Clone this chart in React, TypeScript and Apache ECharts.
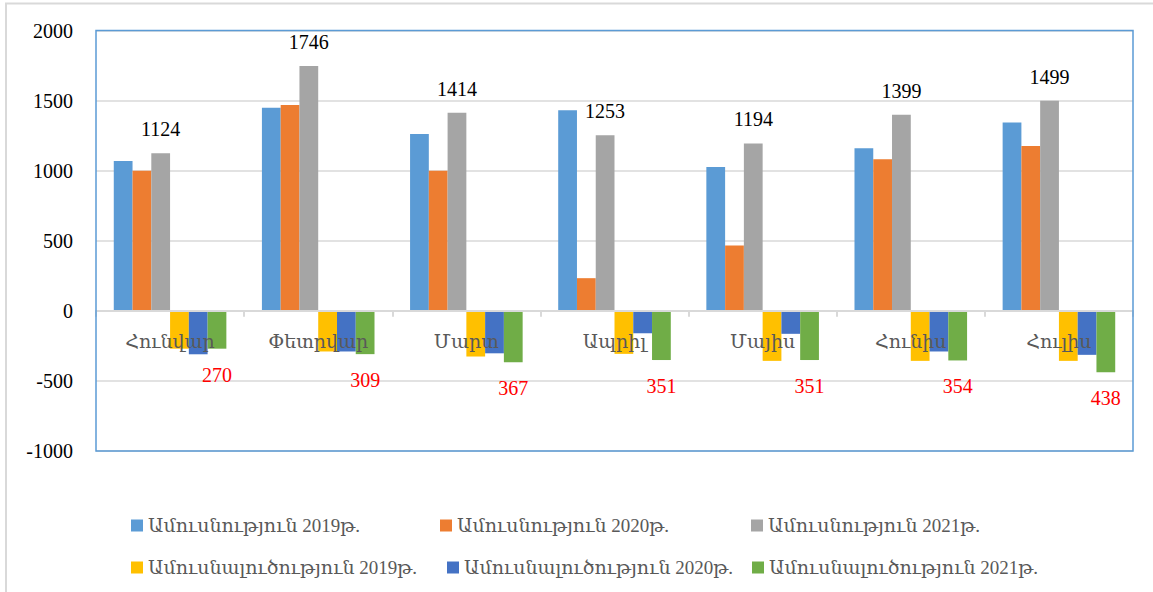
import React, { useEffect, useRef } from "react";
import * as echarts from "echarts";

const categories = ["Հունվար", "Փետրվար", "Մարտ", "Ապրիլ", "Մայիս", "Հունիս", "Հուլիս"];
const seriesNames = [
  "Ամուսնություն 2019թ.",
  "Ամուսնություն 2020թ.",
  "Ամուսնություն 2021թ.",
  "Ամուսնալուծություն 2019թ.",
  "Ամուսնալուծություն 2020թ.",
  "Ամուսնալուծություն 2021թ.",
];
const marriage2019 = [1069, 1448, 1262, 1431, 1026, 1160, 1343];
const marriage2020 = [1000, 1469, 1000, 233, 467, 1081, 1176];
const marriage2021 = [1124, 1746, 1414, 1253, 1194, 1399, 1499];
const divorce2019 = [-270, -290, -326, -307, -357, -357, -357];
const divorce2020 = [-310, -290, -303, -160, -164, -290, -314];
const divorce2021 = [-270, -309, -367, -351, -351, -354, -438];
const yTicks = { min: -1000, max: 2000, interval: 500 };

const colors = ["#5b9bd5", "#ed7d31", "#a5a5a5", "#ffc000", "#4472c4", "#70ad47"];
const FONT = "'Liberation Serif', 'DejaVu Serif', serif";

export default function App() {
  const ref = useRef<HTMLDivElement>(null);
  useEffect(() => {
    if (!ref.current) return;
    const chart = echarts.init(ref.current, undefined, { renderer: "svg" });
    const values = [marriage2019, marriage2020, marriage2021, divorce2019, divorce2020, divorce2021];
    const gridL = 96, gridT = 30.5, gridR = 1133, gridB = 451;
    const zeroY = gridB - ((0 - yTicks.min) / (yTicks.max - yTicks.min)) * (gridB - gridT);
    const legendPos = [
      [126, 511], [435, 511], [746, 511],
      [126, 553], [442, 553], [747, 553],
    ];
    chart.setOption({
      animation: false,
      textStyle: { fontFamily: FONT },
      grid: { left: gridL, top: gridT, width: gridR - gridL, height: gridB - gridT, containLabel: false },
      legend: seriesNames.map((n, i) => ({
        data: [n],
        left: legendPos[i][0],
        top: legendPos[i][1],
        icon: "rect",
        itemWidth: 12,
        itemHeight: 12,
        itemGap: 6,
        selectedMode: false,
        textStyle: { fontFamily: FONT, fontSize: 19, color: "#595959" },
      })),
      xAxis: {
        type: "category",
        data: categories,
        z: 5,
        position: "bottom",
        offset: -(gridB - zeroY),
        axisLine: { onZero: false, lineStyle: { color: "#d9d9d9", width: 2 } },
        axisTick: { show: true, length: 6, lineStyle: { color: "#d9d9d9", width: 2 } },
        axisLabel: { margin: 21, fontSize: 19, color: "#595959", fontFamily: FONT },
      },
      yAxis: {
        type: "value",
        min: yTicks.min,
        max: yTicks.max,
        interval: yTicks.interval,
        axisLine: { show: false },
        axisTick: { show: false },
        axisLabel: {
          margin: 23,
          fontSize: 20,
          color: "#000",
          fontFamily: FONT,
          formatter: (v: number) => String(v),
        },
        splitLine: { lineStyle: { color: "#d9d9d9", width: 1.5 } },
      },
      series: values.map((d, i) => ({
        name: seriesNames[i],
        type: "bar",
        data: d,
        barGap: "0%",
        barCategoryGap: "24%",
        itemStyle: { color: colors[i] },
        label:
          i === 2
            ? { show: true, position: "top", distance: 14, fontSize: 20, color: "#000", fontFamily: FONT }
            : i === 5
            ? {
                show: true,
                position: "bottom",
                distance: 16,
                fontSize: 20,
                color: "#ff0000",
                fontFamily: FONT,
                formatter: (p: any) => String(Math.abs(p.value)),
              }
            : { show: false },
      })),
      graphic: [
        {
          type: "rect",
          z: 100,
          shape: { x: gridL, y: gridT, width: gridR - gridL, height: gridB - gridT },
          style: { fill: "none", stroke: "#5b9bd5", lineWidth: 1.5 },
        },
        {
          type: "polyline",
          z: 100,
          shape: { points: [[6, 600], [6, 3.5], [1160, 3.5]] },
          style: { fill: "none", stroke: "#d9d9d9", lineWidth: 2 },
        },
      ],
    });
    return () => chart.dispose();
  }, []);
  return (
    <div
      ref={ref}
      style={{ position: "fixed", left: 0, top: 0, width: 1153, height: 592, background: "#fff" }}
    />
  );
}
